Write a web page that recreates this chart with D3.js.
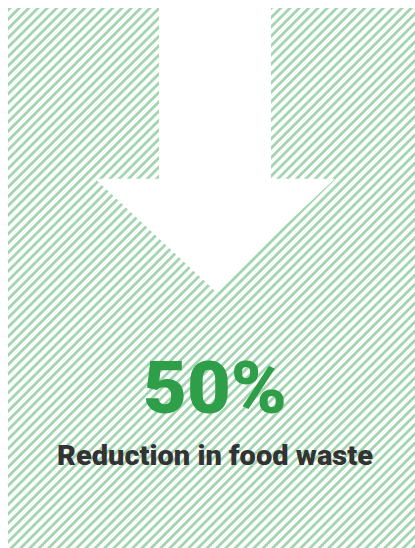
<!DOCTYPE html>
<html>
<head>
<meta charset="utf-8">
<script src="https://cdn.jsdelivr.net/npm/d3@7"></script>
<style>
  html, body { margin: 0; padding: 0; background: #ffffff; }
  svg { display: block; }
</style>
</head>
<body>
<div id="chart"></div>
<script>
// ---- data ----
const statValues = [50];
const statUnits = ["%"];
const statLabels = ["Reduction in food waste"];

// ---- layout ----
const W = 415, H = 548;
const svg = d3.select("#chart").append("svg")
  .attr("width", W).attr("height", H);

const defs = svg.append("defs");
const pat = defs.append("pattern")
  .attr("id", "hatch")
  .attr("patternUnits", "userSpaceOnUse")
  .attr("width", 6.6).attr("height", 6.6)
  .attr("patternTransform", "translate(8,8) rotate(45)");
pat.append("rect").attr("width", 6.6).attr("height", 6.6).attr("fill", "#ffffff");
pat.append("rect").attr("x", 0).attr("y", 0).attr("width", 2.8).attr("height", 6.6)
  .attr("fill", "#a2d5b0");

// hatched background panel
svg.append("rect")
  .attr("x", 8).attr("y", 8)
  .attr("width", W - 8).attr("height", H - 8)
  .attr("fill", "url(#hatch)");

// arrow geometry via scales
const cx = 215;
const x = d3.scaleLinear().domain([-1, 1]).range([cx - 120, cx + 120]);
const y = d3.scaleLinear().domain([0, 1]).range([8, 291]);
const shaftHalf = 56 / 120;
const headTop = 0.603;

const arrowPts = [
  [x(-shaftHalf), y(0)],
  [x(shaftHalf), y(0)],
  [x(shaftHalf), y(headTop)],
  [x(1), y(headTop)],
  [x(0), y(1)],
  [x(-1), y(headTop)],
  [x(-shaftHalf), y(headTop)]
];
svg.append("path")
  .attr("d", d3.line()(arrowPts) + "Z")
  .attr("fill", "#ffffff");

// big number
const big = svg.selectAll("text.stat")
  .data(statValues)
  .join("text")
  .attr("class", "stat")
  .attr("x", cx)
  .attr("y", 413)
  .attr("text-anchor", "middle")
  .attr("font-family", "Roboto, 'Noto Sans', sans-serif")
  .attr("font-weight", 900)
  .attr("font-size", 73)
  .attr("fill", "#2e9e48")
  .text((d, i) => d + statUnits[i]);

// label
const lab = svg.selectAll("text.label")
  .data(statLabels)
  .join("text")
  .attr("class", "label")
  .attr("x", cx)
  .attr("y", 465)
  .attr("text-anchor", "middle")
  .attr("font-family", "Roboto, 'Noto Sans', sans-serif")
  .attr("font-weight", 900)
  .attr("font-size", 27)
  .attr("fill", "#333333")
  .text(d => d);

// fit widths to reference extents
const fit = (sel, target) => {
  const w = sel.node().getComputedTextLength();
  sel.attr("textLength", null);
  if (w > 0) sel.attr("textLength", target).attr("lengthAdjust", "spacingAndGlyphs");
};
fit(big, 144);
fit(lab, 316);
</script>
</body>
</html>
